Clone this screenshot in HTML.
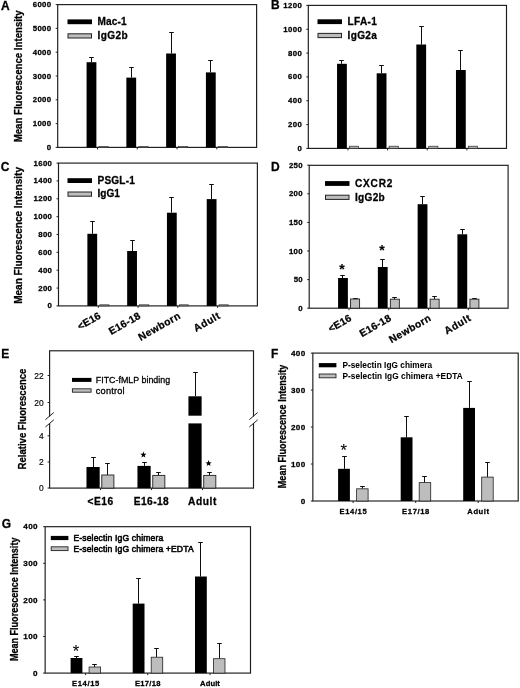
<!DOCTYPE html>
<html><head><meta charset="utf-8"><title>Figure</title>
<style>
html,body{margin:0;padding:0;background:#fff;}
body{width:520px;height:688px;overflow:hidden;font-family:"Liberation Sans", sans-serif;}
svg{display:block;}
svg text{font-family:"Liberation Sans", sans-serif;fill:#000;stroke:#000;stroke-width:0.28px;stroke-linejoin:round;}
svg text[font-weight="normal"]{stroke-width:0.18px;}
</style></head><body>
<svg width="520" height="688" viewBox="0 0 520 688">
<rect x="0" y="0" width="520" height="688" fill="#fff"/>
<defs><filter id="bl" x="-2%" y="-2%" width="104%" height="104%"><feGaussianBlur stdDeviation="0.35"/></filter></defs>
<g filter="url(#bl)">
<rect x="57.70" y="4.60" width="198.90" height="142.80" fill="none" stroke="#1a1a1a" stroke-width="1.15"/>
<text x="0.90" y="9.50" font-size="12" font-weight="bold" text-anchor="start" >A</text>
<line x1="55.70" y1="147.40" x2="57.70" y2="147.40" stroke="#222" stroke-width="1"/>
<text x="51.50" y="149.90" font-size="7.8" font-weight="bold" text-anchor="end" letter-spacing="0.35" >0</text>
<line x1="55.70" y1="123.60" x2="57.70" y2="123.60" stroke="#222" stroke-width="1"/>
<text x="51.50" y="126.10" font-size="7.8" font-weight="bold" text-anchor="end" letter-spacing="0.35" >1000</text>
<line x1="55.70" y1="99.80" x2="57.70" y2="99.80" stroke="#222" stroke-width="1"/>
<text x="51.50" y="102.30" font-size="7.8" font-weight="bold" text-anchor="end" letter-spacing="0.35" >2000</text>
<line x1="55.70" y1="76.00" x2="57.70" y2="76.00" stroke="#222" stroke-width="1"/>
<text x="51.50" y="78.50" font-size="7.8" font-weight="bold" text-anchor="end" letter-spacing="0.35" >3000</text>
<line x1="55.70" y1="52.20" x2="57.70" y2="52.20" stroke="#222" stroke-width="1"/>
<text x="51.50" y="54.70" font-size="7.8" font-weight="bold" text-anchor="end" letter-spacing="0.35" >4000</text>
<line x1="55.70" y1="28.40" x2="57.70" y2="28.40" stroke="#222" stroke-width="1"/>
<text x="51.50" y="30.90" font-size="7.8" font-weight="bold" text-anchor="end" letter-spacing="0.35" >5000</text>
<line x1="55.70" y1="4.60" x2="57.70" y2="4.60" stroke="#222" stroke-width="1"/>
<text x="51.50" y="7.10" font-size="7.8" font-weight="bold" text-anchor="end" letter-spacing="0.35" >6000</text>
<line x1="97.48" y1="147.40" x2="97.48" y2="149.40" stroke="#222" stroke-width="1"/>
<line x1="137.26" y1="147.40" x2="137.26" y2="149.40" stroke="#222" stroke-width="1"/>
<line x1="177.04" y1="147.40" x2="177.04" y2="149.40" stroke="#222" stroke-width="1"/>
<line x1="216.82" y1="147.40" x2="216.82" y2="149.40" stroke="#222" stroke-width="1"/>
<rect x="67.50" y="19.40" width="24.50" height="4.80" fill="#000"/>
<text x="97.50" y="25.00" font-size="10.1" font-weight="bold" text-anchor="start" textLength="29.0" lengthAdjust="spacing">Mac-1</text>
<rect x="68.00" y="33.80" width="23.50" height="4.20" fill="#bdbdbd" stroke="#222" stroke-width="1"/>
<text x="97.50" y="38.80" font-size="10.1" font-weight="bold" text-anchor="start" textLength="30.2" lengthAdjust="spacing">IgG2b</text>
<line x1="91.50" y1="57.00" x2="91.50" y2="62.20" stroke="#111" stroke-width="1"/>
<line x1="89.20" y1="57.50" x2="93.80" y2="57.50" stroke="#111" stroke-width="1"/>
<rect x="86.58" y="62.20" width="9.80" height="85.20" fill="#000"/>
<line x1="131.50" y1="67.00" x2="131.50" y2="77.60" stroke="#111" stroke-width="1"/>
<line x1="129.20" y1="67.50" x2="133.80" y2="67.50" stroke="#111" stroke-width="1"/>
<rect x="126.36" y="77.60" width="9.80" height="69.80" fill="#000"/>
<line x1="171.50" y1="32.00" x2="171.50" y2="53.50" stroke="#111" stroke-width="1"/>
<line x1="169.20" y1="32.50" x2="173.80" y2="32.50" stroke="#111" stroke-width="1"/>
<rect x="166.14" y="53.50" width="9.80" height="93.90" fill="#000"/>
<line x1="210.50" y1="60.00" x2="210.50" y2="72.40" stroke="#111" stroke-width="1"/>
<line x1="208.20" y1="60.50" x2="212.80" y2="60.50" stroke="#111" stroke-width="1"/>
<rect x="205.92" y="72.40" width="9.80" height="75.00" fill="#000"/>
<rect x="98.98" y="146.60" width="9.20" height="0.80" fill="#aaa" stroke="#333" stroke-width="0.7"/>
<rect x="138.76" y="146.60" width="9.20" height="0.80" fill="#aaa" stroke="#333" stroke-width="0.7"/>
<rect x="178.54" y="146.60" width="9.20" height="0.80" fill="#aaa" stroke="#333" stroke-width="0.7"/>
<rect x="218.32" y="146.60" width="9.20" height="0.80" fill="#aaa" stroke="#333" stroke-width="0.7"/>
<text x="21.90" y="76.40" font-size="10" font-weight="bold" text-anchor="middle" transform="rotate(-90 21.90 76.40)" textLength="131.8" lengthAdjust="spacingAndGlyphs">Mean Fluorescence Intensity</text>
<rect x="308.30" y="5.40" width="198.20" height="143.00" fill="none" stroke="#1a1a1a" stroke-width="1.15"/>
<text x="271.00" y="9.40" font-size="12" font-weight="bold" text-anchor="start" >B</text>
<line x1="306.30" y1="148.40" x2="308.30" y2="148.40" stroke="#222" stroke-width="1"/>
<text x="302.10" y="150.90" font-size="7.8" font-weight="bold" text-anchor="end" letter-spacing="0.35" >0</text>
<line x1="306.30" y1="124.57" x2="308.30" y2="124.57" stroke="#222" stroke-width="1"/>
<text x="302.10" y="127.07" font-size="7.8" font-weight="bold" text-anchor="end" letter-spacing="0.35" >200</text>
<line x1="306.30" y1="100.74" x2="308.30" y2="100.74" stroke="#222" stroke-width="1"/>
<text x="302.10" y="103.24" font-size="7.8" font-weight="bold" text-anchor="end" letter-spacing="0.35" >400</text>
<line x1="306.30" y1="76.91" x2="308.30" y2="76.91" stroke="#222" stroke-width="1"/>
<text x="302.10" y="79.41" font-size="7.8" font-weight="bold" text-anchor="end" letter-spacing="0.35" >600</text>
<line x1="306.30" y1="53.08" x2="308.30" y2="53.08" stroke="#222" stroke-width="1"/>
<text x="302.10" y="55.58" font-size="7.8" font-weight="bold" text-anchor="end" letter-spacing="0.35" >800</text>
<line x1="306.30" y1="29.25" x2="308.30" y2="29.25" stroke="#222" stroke-width="1"/>
<text x="302.10" y="31.75" font-size="7.8" font-weight="bold" text-anchor="end" letter-spacing="0.35" >1000</text>
<line x1="306.30" y1="5.42" x2="308.30" y2="5.42" stroke="#222" stroke-width="1"/>
<text x="302.10" y="7.92" font-size="7.8" font-weight="bold" text-anchor="end" letter-spacing="0.35" >1200</text>
<line x1="347.94" y1="148.40" x2="347.94" y2="150.40" stroke="#222" stroke-width="1"/>
<line x1="387.58" y1="148.40" x2="387.58" y2="150.40" stroke="#222" stroke-width="1"/>
<line x1="427.22" y1="148.40" x2="427.22" y2="150.40" stroke="#222" stroke-width="1"/>
<line x1="466.86" y1="148.40" x2="466.86" y2="150.40" stroke="#222" stroke-width="1"/>
<rect x="317.50" y="19.30" width="24.50" height="4.80" fill="#000"/>
<text x="347.50" y="24.80" font-size="10.1" font-weight="bold" text-anchor="start" textLength="29.3" lengthAdjust="spacing">LFA-1</text>
<rect x="318.00" y="33.40" width="23.50" height="4.20" fill="#bdbdbd" stroke="#222" stroke-width="1"/>
<text x="347.50" y="39.10" font-size="10.1" font-weight="bold" text-anchor="start" textLength="29.4" lengthAdjust="spacing">IgG2a</text>
<line x1="341.50" y1="60.00" x2="341.50" y2="63.80" stroke="#111" stroke-width="1"/>
<line x1="339.20" y1="60.50" x2="343.80" y2="60.50" stroke="#111" stroke-width="1"/>
<rect x="337.04" y="63.80" width="9.80" height="84.60" fill="#000"/>
<line x1="381.50" y1="65.00" x2="381.50" y2="73.30" stroke="#111" stroke-width="1"/>
<line x1="379.20" y1="65.50" x2="383.80" y2="65.50" stroke="#111" stroke-width="1"/>
<rect x="376.68" y="73.30" width="9.80" height="75.10" fill="#000"/>
<line x1="421.50" y1="26.00" x2="421.50" y2="44.50" stroke="#111" stroke-width="1"/>
<line x1="419.20" y1="26.50" x2="423.80" y2="26.50" stroke="#111" stroke-width="1"/>
<rect x="416.32" y="44.50" width="9.80" height="103.90" fill="#000"/>
<line x1="460.50" y1="50.00" x2="460.50" y2="70.00" stroke="#111" stroke-width="1"/>
<line x1="458.20" y1="50.50" x2="462.80" y2="50.50" stroke="#111" stroke-width="1"/>
<rect x="455.96" y="70.00" width="9.80" height="78.40" fill="#000"/>
<rect x="349.44" y="146.20" width="9.20" height="2.20" fill="#aaa" stroke="#333" stroke-width="0.7"/>
<rect x="389.08" y="146.20" width="9.20" height="2.20" fill="#aaa" stroke="#333" stroke-width="0.7"/>
<rect x="428.72" y="146.20" width="9.20" height="2.20" fill="#aaa" stroke="#333" stroke-width="0.7"/>
<rect x="468.36" y="146.20" width="9.20" height="2.20" fill="#aaa" stroke="#333" stroke-width="0.7"/>
<rect x="58.50" y="163.10" width="198.90" height="142.80" fill="none" stroke="#1a1a1a" stroke-width="1.15"/>
<text x="0.70" y="170.60" font-size="12" font-weight="bold" text-anchor="start" >C</text>
<line x1="56.50" y1="305.90" x2="58.50" y2="305.90" stroke="#222" stroke-width="1"/>
<text x="52.30" y="308.40" font-size="7.8" font-weight="bold" text-anchor="end" letter-spacing="0.35" >0</text>
<line x1="56.50" y1="288.05" x2="58.50" y2="288.05" stroke="#222" stroke-width="1"/>
<text x="52.30" y="290.55" font-size="7.8" font-weight="bold" text-anchor="end" letter-spacing="0.35" >200</text>
<line x1="56.50" y1="270.20" x2="58.50" y2="270.20" stroke="#222" stroke-width="1"/>
<text x="52.30" y="272.70" font-size="7.8" font-weight="bold" text-anchor="end" letter-spacing="0.35" >400</text>
<line x1="56.50" y1="252.35" x2="58.50" y2="252.35" stroke="#222" stroke-width="1"/>
<text x="52.30" y="254.85" font-size="7.8" font-weight="bold" text-anchor="end" letter-spacing="0.35" >600</text>
<line x1="56.50" y1="234.50" x2="58.50" y2="234.50" stroke="#222" stroke-width="1"/>
<text x="52.30" y="237.00" font-size="7.8" font-weight="bold" text-anchor="end" letter-spacing="0.35" >800</text>
<line x1="56.50" y1="216.65" x2="58.50" y2="216.65" stroke="#222" stroke-width="1"/>
<text x="52.30" y="219.15" font-size="7.8" font-weight="bold" text-anchor="end" letter-spacing="0.35" >1000</text>
<line x1="56.50" y1="198.80" x2="58.50" y2="198.80" stroke="#222" stroke-width="1"/>
<text x="52.30" y="201.30" font-size="7.8" font-weight="bold" text-anchor="end" letter-spacing="0.35" >1200</text>
<line x1="56.50" y1="180.95" x2="58.50" y2="180.95" stroke="#222" stroke-width="1"/>
<text x="52.30" y="183.45" font-size="7.8" font-weight="bold" text-anchor="end" letter-spacing="0.35" >1400</text>
<line x1="56.50" y1="163.10" x2="58.50" y2="163.10" stroke="#222" stroke-width="1"/>
<text x="52.30" y="165.60" font-size="7.8" font-weight="bold" text-anchor="end" letter-spacing="0.35" >1600</text>
<line x1="98.28" y1="305.90" x2="98.28" y2="307.90" stroke="#222" stroke-width="1"/>
<line x1="138.06" y1="305.90" x2="138.06" y2="307.90" stroke="#222" stroke-width="1"/>
<line x1="177.84" y1="305.90" x2="177.84" y2="307.90" stroke="#222" stroke-width="1"/>
<line x1="217.62" y1="305.90" x2="217.62" y2="307.90" stroke="#222" stroke-width="1"/>
<rect x="67.50" y="178.20" width="24.50" height="4.80" fill="#000"/>
<text x="97.50" y="183.50" font-size="10.1" font-weight="bold" text-anchor="start" textLength="37.3" lengthAdjust="spacing">PSGL-1</text>
<rect x="68.00" y="192.00" width="23.50" height="4.20" fill="#bdbdbd" stroke="#222" stroke-width="1"/>
<text x="97.50" y="197.30" font-size="10.1" font-weight="bold" text-anchor="start" >IgG1</text>
<line x1="92.50" y1="221.00" x2="92.50" y2="233.80" stroke="#111" stroke-width="1"/>
<line x1="90.20" y1="221.50" x2="94.80" y2="221.50" stroke="#111" stroke-width="1"/>
<rect x="87.38" y="233.80" width="9.80" height="72.10" fill="#000"/>
<line x1="132.50" y1="240.00" x2="132.50" y2="251.00" stroke="#111" stroke-width="1"/>
<line x1="130.20" y1="240.50" x2="134.80" y2="240.50" stroke="#111" stroke-width="1"/>
<rect x="127.16" y="251.00" width="9.80" height="54.90" fill="#000"/>
<line x1="171.50" y1="197.00" x2="171.50" y2="212.70" stroke="#111" stroke-width="1"/>
<line x1="169.20" y1="197.50" x2="173.80" y2="197.50" stroke="#111" stroke-width="1"/>
<rect x="166.94" y="212.70" width="9.80" height="93.20" fill="#000"/>
<line x1="211.50" y1="184.00" x2="211.50" y2="199.10" stroke="#111" stroke-width="1"/>
<line x1="209.20" y1="184.50" x2="213.80" y2="184.50" stroke="#111" stroke-width="1"/>
<rect x="206.72" y="199.10" width="9.80" height="106.80" fill="#000"/>
<rect x="99.78" y="304.80" width="9.20" height="1.10" fill="#aaa" stroke="#333" stroke-width="0.7"/>
<rect x="139.56" y="304.80" width="9.20" height="1.10" fill="#aaa" stroke="#333" stroke-width="0.7"/>
<rect x="179.34" y="304.80" width="9.20" height="1.10" fill="#aaa" stroke="#333" stroke-width="0.7"/>
<rect x="219.12" y="304.80" width="9.20" height="1.10" fill="#aaa" stroke="#333" stroke-width="0.7"/>
<text x="21.90" y="235.45" font-size="10" font-weight="bold" text-anchor="middle" transform="rotate(-90 21.90 235.45)" textLength="136.8" lengthAdjust="spacingAndGlyphs">Mean Fluorescence Intensity</text>
<text x="101.48" y="317.80" font-size="10.2" font-weight="bold" text-anchor="end" transform="rotate(-30 101.48 317.80)" textLength="24.8" lengthAdjust="spacing">&lt;E16</text>
<text x="141.26" y="317.80" font-size="10.2" font-weight="bold" text-anchor="end" transform="rotate(-30 141.26 317.80)" textLength="34.5" lengthAdjust="spacing">E16-18</text>
<text x="181.04" y="317.80" font-size="10.2" font-weight="bold" text-anchor="end" transform="rotate(-30 181.04 317.80)" textLength="46.4" lengthAdjust="spacing">Newborn</text>
<text x="220.82" y="317.80" font-size="10.2" font-weight="bold" text-anchor="end" transform="rotate(-30 220.82 317.80)" textLength="28.6" lengthAdjust="spacing">Adult</text>
<rect x="309.20" y="165.30" width="198.90" height="142.90" fill="none" stroke="#1a1a1a" stroke-width="1.15"/>
<text x="271.00" y="170.80" font-size="12" font-weight="bold" text-anchor="start" >D</text>
<line x1="307.20" y1="308.20" x2="309.20" y2="308.20" stroke="#222" stroke-width="1"/>
<text x="303.00" y="310.70" font-size="7.8" font-weight="bold" text-anchor="end" letter-spacing="0.35" >0</text>
<line x1="307.20" y1="279.60" x2="309.20" y2="279.60" stroke="#222" stroke-width="1"/>
<text x="303.00" y="282.10" font-size="7.8" font-weight="bold" text-anchor="end" letter-spacing="0.35" >50</text>
<line x1="307.20" y1="251.00" x2="309.20" y2="251.00" stroke="#222" stroke-width="1"/>
<text x="303.00" y="253.50" font-size="7.8" font-weight="bold" text-anchor="end" letter-spacing="0.35" >100</text>
<line x1="307.20" y1="222.40" x2="309.20" y2="222.40" stroke="#222" stroke-width="1"/>
<text x="303.00" y="224.90" font-size="7.8" font-weight="bold" text-anchor="end" letter-spacing="0.35" >150</text>
<line x1="307.20" y1="193.80" x2="309.20" y2="193.80" stroke="#222" stroke-width="1"/>
<text x="303.00" y="196.30" font-size="7.8" font-weight="bold" text-anchor="end" letter-spacing="0.35" >200</text>
<line x1="307.20" y1="165.20" x2="309.20" y2="165.20" stroke="#222" stroke-width="1"/>
<text x="303.00" y="167.70" font-size="7.8" font-weight="bold" text-anchor="end" letter-spacing="0.35" >250</text>
<line x1="348.98" y1="308.20" x2="348.98" y2="310.20" stroke="#222" stroke-width="1"/>
<line x1="388.76" y1="308.20" x2="388.76" y2="310.20" stroke="#222" stroke-width="1"/>
<line x1="428.54" y1="308.20" x2="428.54" y2="310.20" stroke="#222" stroke-width="1"/>
<line x1="468.32" y1="308.20" x2="468.32" y2="310.20" stroke="#222" stroke-width="1"/>
<rect x="325.00" y="181.10" width="24.50" height="4.80" fill="#000"/>
<text x="355.00" y="187.20" font-size="10.1" font-weight="bold" text-anchor="start" textLength="37.4" lengthAdjust="spacing">CXCR2</text>
<rect x="325.50" y="195.20" width="23.50" height="4.20" fill="#bdbdbd" stroke="#222" stroke-width="1"/>
<text x="355.00" y="200.90" font-size="10.1" font-weight="bold" text-anchor="start" textLength="29.7" lengthAdjust="spacing">IgG2b</text>
<line x1="342.50" y1="275.00" x2="342.50" y2="278.00" stroke="#111" stroke-width="1"/>
<line x1="340.20" y1="275.50" x2="344.80" y2="275.50" stroke="#111" stroke-width="1"/>
<rect x="338.08" y="278.00" width="9.80" height="30.20" fill="#000"/>
<line x1="382.50" y1="259.00" x2="382.50" y2="267.00" stroke="#111" stroke-width="1"/>
<line x1="380.20" y1="259.50" x2="384.80" y2="259.50" stroke="#111" stroke-width="1"/>
<rect x="377.86" y="267.00" width="9.80" height="41.20" fill="#000"/>
<line x1="422.50" y1="196.00" x2="422.50" y2="204.20" stroke="#111" stroke-width="1"/>
<line x1="420.20" y1="196.50" x2="424.80" y2="196.50" stroke="#111" stroke-width="1"/>
<rect x="417.64" y="204.20" width="9.80" height="104.00" fill="#000"/>
<line x1="462.50" y1="229.00" x2="462.50" y2="234.30" stroke="#111" stroke-width="1"/>
<line x1="460.20" y1="229.50" x2="464.80" y2="229.50" stroke="#111" stroke-width="1"/>
<rect x="457.42" y="234.30" width="9.80" height="73.90" fill="#000"/>
<line x1="355.50" y1="298.00" x2="355.50" y2="299.00" stroke="#111" stroke-width="1"/>
<line x1="353.20" y1="298.50" x2="357.80" y2="298.50" stroke="#111" stroke-width="1"/>
<rect x="350.58" y="299.00" width="9.00" height="9.20" fill="#bdbdbd" stroke="#222" stroke-width="0.9"/>
<line x1="394.50" y1="297.00" x2="394.50" y2="299.20" stroke="#111" stroke-width="1"/>
<line x1="392.20" y1="297.50" x2="396.80" y2="297.50" stroke="#111" stroke-width="1"/>
<rect x="390.36" y="299.20" width="9.00" height="9.00" fill="#bdbdbd" stroke="#222" stroke-width="0.9"/>
<line x1="434.50" y1="296.00" x2="434.50" y2="299.20" stroke="#111" stroke-width="1"/>
<line x1="432.20" y1="296.50" x2="436.80" y2="296.50" stroke="#111" stroke-width="1"/>
<rect x="430.14" y="299.20" width="9.00" height="9.00" fill="#bdbdbd" stroke="#222" stroke-width="0.9"/>
<line x1="474.50" y1="298.00" x2="474.50" y2="299.20" stroke="#111" stroke-width="1"/>
<line x1="472.20" y1="298.50" x2="476.80" y2="298.50" stroke="#111" stroke-width="1"/>
<rect x="469.92" y="299.20" width="9.00" height="9.00" fill="#bdbdbd" stroke="#222" stroke-width="0.9"/>
<text x="352.18" y="320.10" font-size="10.2" font-weight="bold" text-anchor="end" transform="rotate(-30 352.18 320.10)" textLength="24.8" lengthAdjust="spacing">&lt;E16</text>
<text x="391.96" y="320.10" font-size="10.2" font-weight="bold" text-anchor="end" transform="rotate(-30 391.96 320.10)" textLength="34.5" lengthAdjust="spacing">E16-18</text>
<text x="431.74" y="320.10" font-size="10.2" font-weight="bold" text-anchor="end" transform="rotate(-30 431.74 320.10)" textLength="46.4" lengthAdjust="spacing">Newborn</text>
<text x="471.52" y="320.10" font-size="10.2" font-weight="bold" text-anchor="end" transform="rotate(-30 471.52 320.10)" textLength="28.6" lengthAdjust="spacing">Adult</text>
<text x="342.10" y="273.58" font-size="14" font-weight="bold" text-anchor="middle" style="stroke-width:0.1px">*</text>
<text x="381.90" y="255.48" font-size="14" font-weight="bold" text-anchor="middle" style="stroke-width:0.1px">*</text>
<rect x="49.60" y="350.80" width="203.90" height="137.30" fill="none" stroke="#1a1a1a" stroke-width="1.15"/>
<text x="1.30" y="357.60" font-size="12" font-weight="bold" text-anchor="start" >E</text>
<line x1="47.60" y1="488.00" x2="49.60" y2="488.00" stroke="#222" stroke-width="1"/>
<text x="43.60" y="491.40" font-size="9.6" font-weight="normal" text-anchor="end" textLength="4.7" lengthAdjust="spacingAndGlyphs">0</text>
<line x1="47.60" y1="462.00" x2="49.60" y2="462.00" stroke="#222" stroke-width="1"/>
<text x="43.60" y="465.40" font-size="9.6" font-weight="normal" text-anchor="end" textLength="4.7" lengthAdjust="spacingAndGlyphs">2</text>
<line x1="47.60" y1="435.80" x2="49.60" y2="435.80" stroke="#222" stroke-width="1"/>
<text x="43.60" y="439.20" font-size="9.6" font-weight="normal" text-anchor="end" textLength="4.7" lengthAdjust="spacingAndGlyphs">4</text>
<line x1="47.60" y1="402.50" x2="49.60" y2="402.50" stroke="#222" stroke-width="1"/>
<text x="43.60" y="405.90" font-size="9.6" font-weight="normal" text-anchor="end" textLength="9.4" lengthAdjust="spacingAndGlyphs">20</text>
<line x1="47.60" y1="375.50" x2="49.60" y2="375.50" stroke="#222" stroke-width="1"/>
<text x="43.60" y="378.90" font-size="9.6" font-weight="normal" text-anchor="end" textLength="9.4" lengthAdjust="spacingAndGlyphs">22</text>
<rect x="48.10" y="416.60" width="3.00" height="6.40" fill="#fff"/>
<line x1="45.40" y1="419.70" x2="53.80" y2="412.50" stroke="#222" stroke-width="1"/>
<line x1="45.40" y1="427.00" x2="53.80" y2="419.80" stroke="#222" stroke-width="1"/>
<rect x="252.00" y="416.60" width="3.00" height="6.40" fill="#fff"/>
<line x1="249.30" y1="419.70" x2="257.70" y2="412.50" stroke="#222" stroke-width="1"/>
<line x1="249.30" y1="427.00" x2="257.70" y2="419.80" stroke="#222" stroke-width="1"/>
<line x1="100.58" y1="488.10" x2="100.58" y2="490.10" stroke="#222" stroke-width="1"/>
<line x1="151.55" y1="488.10" x2="151.55" y2="490.10" stroke="#222" stroke-width="1"/>
<line x1="202.53" y1="488.10" x2="202.53" y2="490.10" stroke="#222" stroke-width="1"/>
<rect x="72.00" y="377.90" width="19.50" height="4.00" fill="#000"/>
<text x="95.80" y="382.90" font-size="9.2" font-weight="normal" text-anchor="start" textLength="74.3" lengthAdjust="spacingAndGlyphs" style="stroke-width:0.3px">FITC-fMLP binding</text>
<rect x="72.40" y="388.80" width="18.70" height="3.40" fill="#bdbdbd" stroke="#222" stroke-width="0.9"/>
<text x="95.80" y="393.90" font-size="9.2" font-weight="normal" text-anchor="start" textLength="28.8" lengthAdjust="spacing" style="stroke-width:0.3px">control</text>
<line x1="93.50" y1="457.00" x2="93.50" y2="467.00" stroke="#111" stroke-width="1"/>
<line x1="91.20" y1="457.50" x2="95.80" y2="457.50" stroke="#111" stroke-width="1"/>
<rect x="86.48" y="467.00" width="13.20" height="21.10" fill="#000"/>
<line x1="144.50" y1="462.00" x2="144.50" y2="465.90" stroke="#111" stroke-width="1"/>
<line x1="142.20" y1="462.50" x2="146.80" y2="462.50" stroke="#111" stroke-width="1"/>
<rect x="137.45" y="465.90" width="13.20" height="22.20" fill="#000"/>
<line x1="195.50" y1="372.00" x2="195.50" y2="396.30" stroke="#111" stroke-width="1"/>
<line x1="193.20" y1="372.50" x2="197.80" y2="372.50" stroke="#111" stroke-width="1"/>
<rect x="188.43" y="396.30" width="13.20" height="91.80" fill="#000"/>
<line x1="107.50" y1="463.00" x2="107.50" y2="475.00" stroke="#111" stroke-width="1"/>
<line x1="105.20" y1="463.50" x2="109.80" y2="463.50" stroke="#111" stroke-width="1"/>
<rect x="101.78" y="475.00" width="12.10" height="13.10" fill="#bdbdbd" stroke="#222" stroke-width="0.9"/>
<line x1="158.50" y1="472.00" x2="158.50" y2="475.40" stroke="#111" stroke-width="1"/>
<line x1="156.20" y1="472.50" x2="160.80" y2="472.50" stroke="#111" stroke-width="1"/>
<rect x="152.75" y="475.40" width="12.10" height="12.70" fill="#bdbdbd" stroke="#222" stroke-width="0.9"/>
<line x1="209.50" y1="472.00" x2="209.50" y2="475.40" stroke="#111" stroke-width="1"/>
<line x1="207.20" y1="472.50" x2="211.80" y2="472.50" stroke="#111" stroke-width="1"/>
<rect x="203.72" y="475.40" width="12.10" height="12.70" fill="#bdbdbd" stroke="#222" stroke-width="0.9"/>
<rect x="187.53" y="415.70" width="15.20" height="7.70" fill="#fff"/>
<text x="100.28" y="504.90" font-size="10.2" font-weight="bold" text-anchor="middle" textLength="25.6" lengthAdjust="spacing">&lt;E16</text>
<text x="151.25" y="504.90" font-size="10.2" font-weight="bold" text-anchor="middle" textLength="35.0" lengthAdjust="spacing">E16-18</text>
<text x="202.22" y="504.90" font-size="10.2" font-weight="bold" text-anchor="middle" textLength="28.4" lengthAdjust="spacing">Adult</text>
<polygon points="143.40,451.50 144.21,453.68 146.54,453.78 144.72,455.23 145.34,457.47 143.40,456.19 141.46,457.47 142.08,455.23 140.26,453.78 142.59,453.68" fill="#000"/>
<polygon points="208.60,460.10 209.41,462.28 211.74,462.38 209.92,463.83 210.54,466.07 208.60,464.79 206.66,466.07 207.28,463.83 205.46,462.38 207.79,462.28" fill="#000"/>
<text x="26.30" y="419.00" font-size="10.5" font-weight="bold" text-anchor="middle" transform="rotate(-90 26.30 419.00)" textLength="100.8" lengthAdjust="spacingAndGlyphs">Relative Fluorescence</text>
<rect x="312.85" y="353.10" width="205.35" height="147.90" fill="none" stroke="#1a1a1a" stroke-width="1.15"/>
<text x="271.00" y="357.60" font-size="12" font-weight="bold" text-anchor="start" >F</text>
<line x1="310.85" y1="501.00" x2="312.85" y2="501.00" stroke="#222" stroke-width="1"/>
<text x="305.55" y="503.70" font-size="8.1" font-weight="bold" text-anchor="end" letter-spacing="0.35" >0</text>
<line x1="310.85" y1="464.03" x2="312.85" y2="464.03" stroke="#222" stroke-width="1"/>
<text x="305.55" y="466.73" font-size="8.1" font-weight="bold" text-anchor="end" letter-spacing="0.35" >100</text>
<line x1="310.85" y1="427.06" x2="312.85" y2="427.06" stroke="#222" stroke-width="1"/>
<text x="305.55" y="429.76" font-size="8.1" font-weight="bold" text-anchor="end" letter-spacing="0.35" >200</text>
<line x1="310.85" y1="390.09" x2="312.85" y2="390.09" stroke="#222" stroke-width="1"/>
<text x="305.55" y="392.79" font-size="8.1" font-weight="bold" text-anchor="end" letter-spacing="0.35" >300</text>
<line x1="310.85" y1="353.12" x2="312.85" y2="353.12" stroke="#222" stroke-width="1"/>
<text x="305.55" y="355.82" font-size="8.1" font-weight="bold" text-anchor="end" letter-spacing="0.35" >400</text>
<line x1="353.10" y1="501.00" x2="353.10" y2="503.00" stroke="#222" stroke-width="1"/>
<line x1="415.70" y1="501.00" x2="415.70" y2="503.00" stroke="#222" stroke-width="1"/>
<line x1="478.20" y1="501.00" x2="478.20" y2="503.00" stroke="#222" stroke-width="1"/>
<rect x="318.80" y="363.10" width="17.60" height="4.20" fill="#000"/>
<text x="342.40" y="368.30" font-size="8.25" font-weight="bold" text-anchor="start" textLength="89.8" lengthAdjust="spacing" style="stroke-width:0.05px">P-selectin IgG chimera</text>
<rect x="319.20" y="374.00" width="16.80" height="3.80" fill="#bdbdbd" stroke="#222" stroke-width="0.9"/>
<text x="342.40" y="378.90" font-size="8.25" font-weight="bold" text-anchor="start" textLength="120.3" lengthAdjust="spacing" style="stroke-width:0.05px">P-selectin IgG chimera +EDTA</text>
<line x1="344.50" y1="456.00" x2="344.50" y2="468.80" stroke="#111" stroke-width="1"/>
<line x1="342.20" y1="456.50" x2="346.80" y2="456.50" stroke="#111" stroke-width="1"/>
<rect x="338.10" y="468.80" width="11.80" height="32.20" fill="#000"/>
<line x1="406.50" y1="416.00" x2="406.50" y2="437.30" stroke="#111" stroke-width="1"/>
<line x1="404.20" y1="416.50" x2="408.80" y2="416.50" stroke="#111" stroke-width="1"/>
<rect x="400.70" y="437.30" width="11.80" height="63.70" fill="#000"/>
<line x1="469.50" y1="381.00" x2="469.50" y2="407.90" stroke="#111" stroke-width="1"/>
<line x1="467.20" y1="381.50" x2="471.80" y2="381.50" stroke="#111" stroke-width="1"/>
<rect x="463.20" y="407.90" width="11.80" height="93.10" fill="#000"/>
<line x1="362.50" y1="486.00" x2="362.50" y2="488.80" stroke="#111" stroke-width="1"/>
<line x1="360.20" y1="486.50" x2="364.80" y2="486.50" stroke="#111" stroke-width="1"/>
<rect x="356.60" y="488.80" width="11.50" height="12.20" fill="#bdbdbd" stroke="#222" stroke-width="0.8"/>
<line x1="424.50" y1="476.00" x2="424.50" y2="482.60" stroke="#111" stroke-width="1"/>
<line x1="422.20" y1="476.50" x2="426.80" y2="476.50" stroke="#111" stroke-width="1"/>
<rect x="419.20" y="482.60" width="11.50" height="18.40" fill="#bdbdbd" stroke="#222" stroke-width="0.8"/>
<line x1="487.50" y1="462.00" x2="487.50" y2="477.10" stroke="#111" stroke-width="1"/>
<line x1="485.20" y1="462.50" x2="489.80" y2="462.50" stroke="#111" stroke-width="1"/>
<rect x="481.70" y="477.10" width="11.50" height="23.90" fill="#bdbdbd" stroke="#222" stroke-width="0.8"/>
<text x="353.10" y="514.40" font-size="7.6" font-weight="bold" text-anchor="middle" textLength="27.2" lengthAdjust="spacing">E14/15</text>
<text x="415.70" y="514.40" font-size="7.6" font-weight="bold" text-anchor="middle" textLength="27.2" lengthAdjust="spacing">E17/18</text>
<text x="478.20" y="514.40" font-size="7.6" font-weight="bold" text-anchor="middle" textLength="21.8" lengthAdjust="spacing">Adult</text>
<text x="285.70" y="426.45" font-size="10.6" font-weight="bold" text-anchor="middle" transform="rotate(-90 285.70 426.45)" textLength="123.4" lengthAdjust="spacingAndGlyphs">Mean Fluorescence Intensity</text>
<text x="343.60" y="456.11" font-size="16.5" font-weight="normal" text-anchor="middle" style="stroke-width:0.1px">*</text>
<rect x="45.15" y="526.70" width="205.35" height="146.40" fill="none" stroke="#1a1a1a" stroke-width="1.15"/>
<text x="1.70" y="527.80" font-size="12" font-weight="bold" text-anchor="start" >G</text>
<line x1="43.15" y1="673.10" x2="45.15" y2="673.10" stroke="#222" stroke-width="1"/>
<text x="37.85" y="675.80" font-size="8.1" font-weight="bold" text-anchor="end" letter-spacing="0.35" >0</text>
<line x1="43.15" y1="636.50" x2="45.15" y2="636.50" stroke="#222" stroke-width="1"/>
<text x="37.85" y="639.20" font-size="8.1" font-weight="bold" text-anchor="end" letter-spacing="0.35" >100</text>
<line x1="43.15" y1="599.90" x2="45.15" y2="599.90" stroke="#222" stroke-width="1"/>
<text x="37.85" y="602.60" font-size="8.1" font-weight="bold" text-anchor="end" letter-spacing="0.35" >200</text>
<line x1="43.15" y1="563.30" x2="45.15" y2="563.30" stroke="#222" stroke-width="1"/>
<text x="37.85" y="566.00" font-size="8.1" font-weight="bold" text-anchor="end" letter-spacing="0.35" >300</text>
<line x1="43.15" y1="526.70" x2="45.15" y2="526.70" stroke="#222" stroke-width="1"/>
<text x="37.85" y="529.40" font-size="8.1" font-weight="bold" text-anchor="end" letter-spacing="0.35" >400</text>
<line x1="85.60" y1="673.10" x2="85.60" y2="675.10" stroke="#222" stroke-width="1"/>
<line x1="147.70" y1="673.10" x2="147.70" y2="675.10" stroke="#222" stroke-width="1"/>
<line x1="210.00" y1="673.10" x2="210.00" y2="675.10" stroke="#222" stroke-width="1"/>
<rect x="50.80" y="535.90" width="17.60" height="4.20" fill="#000"/>
<text x="73.40" y="541.10" font-size="8.6" font-weight="normal" text-anchor="start" textLength="89.8" lengthAdjust="spacing" style="stroke-width:0.55px">E-selectin IgG chimera</text>
<rect x="51.20" y="546.80" width="16.80" height="3.80" fill="#bdbdbd" stroke="#222" stroke-width="0.9"/>
<text x="73.40" y="551.70" font-size="8.6" font-weight="normal" text-anchor="start" textLength="120.3" lengthAdjust="spacing" style="stroke-width:0.55px">E-selectin IgG chimera +EDTA</text>
<line x1="76.50" y1="656.00" x2="76.50" y2="658.00" stroke="#111" stroke-width="1"/>
<line x1="74.20" y1="656.50" x2="78.80" y2="656.50" stroke="#111" stroke-width="1"/>
<rect x="70.60" y="658.00" width="11.80" height="15.10" fill="#000"/>
<line x1="138.50" y1="578.00" x2="138.50" y2="603.60" stroke="#111" stroke-width="1"/>
<line x1="136.20" y1="578.50" x2="140.80" y2="578.50" stroke="#111" stroke-width="1"/>
<rect x="132.70" y="603.60" width="11.80" height="69.50" fill="#000"/>
<line x1="200.50" y1="542.00" x2="200.50" y2="576.50" stroke="#111" stroke-width="1"/>
<line x1="198.20" y1="542.50" x2="202.80" y2="542.50" stroke="#111" stroke-width="1"/>
<rect x="195.00" y="576.50" width="11.80" height="96.60" fill="#000"/>
<line x1="94.50" y1="664.00" x2="94.50" y2="667.00" stroke="#111" stroke-width="1"/>
<line x1="92.20" y1="664.50" x2="96.80" y2="664.50" stroke="#111" stroke-width="1"/>
<rect x="89.10" y="667.00" width="11.50" height="6.10" fill="#bdbdbd" stroke="#222" stroke-width="0.8"/>
<line x1="156.50" y1="648.00" x2="156.50" y2="657.20" stroke="#111" stroke-width="1"/>
<line x1="154.20" y1="648.50" x2="158.80" y2="648.50" stroke="#111" stroke-width="1"/>
<rect x="151.20" y="657.20" width="11.50" height="15.90" fill="#bdbdbd" stroke="#222" stroke-width="0.8"/>
<line x1="219.50" y1="643.00" x2="219.50" y2="658.70" stroke="#111" stroke-width="1"/>
<line x1="217.20" y1="643.50" x2="221.80" y2="643.50" stroke="#111" stroke-width="1"/>
<rect x="213.50" y="658.70" width="11.50" height="14.40" fill="#bdbdbd" stroke="#222" stroke-width="0.8"/>
<text x="85.60" y="686.00" font-size="7.6" font-weight="bold" text-anchor="middle" textLength="27.4" lengthAdjust="spacing">E14/15</text>
<text x="147.70" y="686.00" font-size="7.6" font-weight="bold" text-anchor="middle" textLength="25.6" lengthAdjust="spacing">E17/18</text>
<text x="210.00" y="686.00" font-size="7.6" font-weight="bold" text-anchor="middle" textLength="19.8" lengthAdjust="spacing">Adult</text>
<text x="17.80" y="599.30" font-size="10.6" font-weight="bold" text-anchor="middle" transform="rotate(-90 17.80 599.30)" textLength="123.4" lengthAdjust="spacingAndGlyphs">Mean Fluorescence Intensity</text>
<text x="76.00" y="656.81" font-size="16.5" font-weight="normal" text-anchor="middle" style="stroke-width:0.1px">*</text>
</g>
</svg>
</body></html>
